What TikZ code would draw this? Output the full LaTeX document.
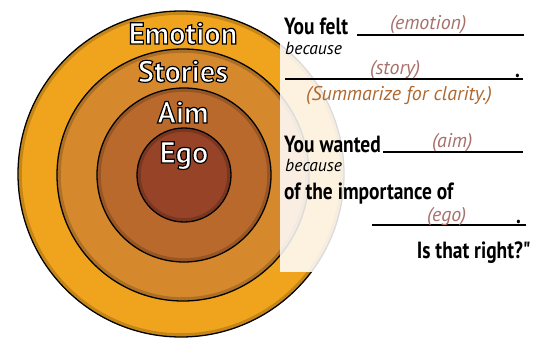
\documentclass[tikz,border=0pt]{standalone}
\usepackage{fontspec}
\setmainfont{PT Sans}
\newfontfamily\condfont[FakeStretch=0.83]{PT Sans}
\definecolor{ringA}{HTML}{F0A41E}
\definecolor{ringB}{HTML}{D5892C}
\definecolor{ringC}{HTML}{B9692B}
\definecolor{ringD}{HTML}{974327}
\definecolor{hint}{HTML}{A8706A}
\definecolor{note}{HTML}{B0682F}
% white letters with a black outline (fill, then stroke)
\newcommand{\outlined}[1]{\special{pdf:literal direct 2 Tr 1 w 0 0 0 RG}#1\special{pdf:literal direct 0 Tr}}

\begin{document}
\begin{tikzpicture}[x=0.03cm,y=-0.03cm,
ring/.style={draw=black,line width=1.1pt},
rim/.style={draw=black,opacity=0.18,line width=3pt},
tag/.style={text=white,font=\fontsize{26}{28}\selectfont\bfseries,anchor=base,inner sep=0pt},
say/.style={font=\condfont\bfseries\fontsize{20}{22}\selectfont,anchor=base west,inner sep=0pt},
soft/.style={font=\itshape\fontsize{15}{17}\selectfont,anchor=base west,inner sep=0pt},
fillin/.style={font=\itshape\fontsize{17}{19}\selectfont,text=hint,anchor=base west,inner sep=0pt},
blank/.style={line width=1.4pt}]
\useasboundingbox (0,0) rectangle (543,341);

% the four nested circles
\filldraw[ring,fill=ringA] (181,174) circle (163);
\draw[rim] (181,174) circle (161);
\filldraw[ring,fill=ringB] (183,175) circle (126);
\draw[rim] (183,175) circle (124);
\filldraw[ring,fill=ringC] (184,175) circle (87);
\draw[rim] (184,175) circle (85);
\filldraw[ring,fill=ringD] (184,175) circle (47);
\draw[rim] (184,175) circle (45);

\node[tag] (emotion) at (183,44) {\outlined{Emotion}};
\node[tag] (stories) at (183,82) {\outlined{Stories}};
\node[tag] (aim) at (183,123) {\outlined{Aim}};
\node[tag] (ego) at (184,163) {\outlined{Ego}};

% text panel on top
\fill[white,opacity=0.86] (280,15) rectangle (529,272);

\node[say] (felt) at (284,35) {You felt};
\draw[blank] (357,35) -- (524,35);
\node[fillin] (emo) at (390,30) {(emotion)};
\node[soft] (because1) at (285,55) {because};
\draw[blank] (285,79) -- (523,79);
\node[fillin] (story) at (370,75) {(story)};
\node[say] (dot1) at (515,78) {.};
\node[fillin,text=note] (summ) at (306,100) {(Summarize for clarity.)};

\node[say] (wanted) at (284,152) {You wanted};
\draw[blank] (383,152) -- (523,152);
\node[fillin] (aimtxt) at (432,147) {(aim)};
\node[soft] (because2) at (285,171) {because};
\node[say] (import) at (284,199) {of the importance of};
\draw[blank] (372,225) -- (526,225);
\node[fillin] (egotxt) at (427,221) {(ego)};
\node[say] (dot2) at (516,223) {.};
\node[say,anchor=base east] (right) at (531,258) {Is that right?"};
\end{tikzpicture}
\end{document}
